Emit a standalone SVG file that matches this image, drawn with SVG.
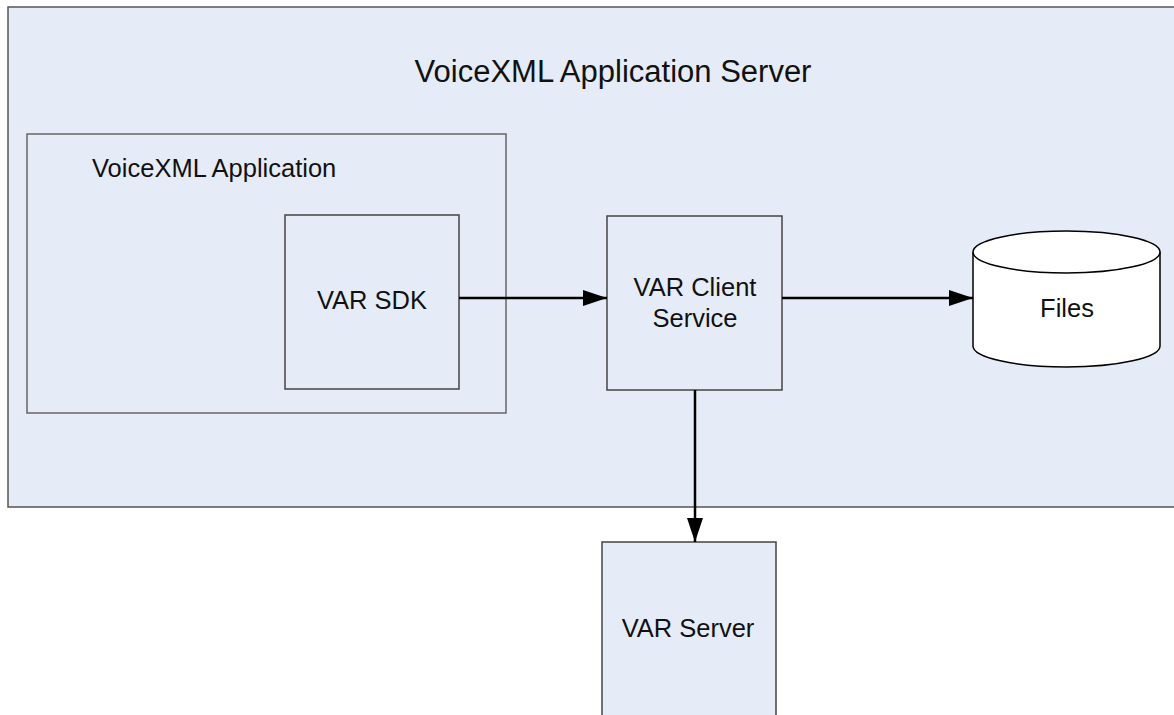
<svg xmlns="http://www.w3.org/2000/svg" width="1174" height="715" viewBox="0 0 1174 715">
<style>
.box{fill:#E6ECF7;stroke:#444;stroke-width:1.5}
.lbl{font-family:"Liberation Sans",Arial,sans-serif;font-size:25.5px;fill:#111;text-anchor:middle}
.con{stroke:#000;stroke-width:2.5;fill:none}
</style>
<defs>
<marker id="arr" markerUnits="userSpaceOnUse" markerWidth="26" markerHeight="18" refX="24" refY="8" orient="auto">
<path d="M0,0 L24,8 L0,16 Z" fill="#000"/>
</marker>
</defs>
<rect width="1174" height="715" fill="#fff"/>
<g id="app-server">
<rect class="box" x="8" y="7" width="1180" height="500" style="stroke:#555"/>
<text class="lbl" x="613" y="82" style="font-size:31px">VoiceXML Application Server</text>
</g>
<g id="voicexml-app">
<rect class="box" x="27" y="134" width="479" height="279" style="stroke:#666"/>
<text class="lbl" x="92" y="177" style="text-anchor:start">VoiceXML Application</text>
</g>
<g id="var-sdk">
<rect class="box" x="285" y="215" width="174" height="174"/>
<text class="lbl" x="372" y="309">VAR SDK</text>
</g>
<g id="var-client">
<rect class="box" x="607" y="216" width="175" height="174"/>
<text class="lbl" x="695" y="296">VAR Client</text>
<text class="lbl" x="695" y="327">Service</text>
</g>
<g id="files">
<path d="M973,252 L973,346 A93.5,21 0 0 0 1160,346 L1160,252" fill="#fff" stroke="#000" stroke-width="1.5"/>
<ellipse cx="1066.5" cy="252" rx="93.5" ry="21" fill="#fff" stroke="#000" stroke-width="1.5"/>
<text class="lbl" x="1067" y="317">Files</text>
</g>
<g id="var-server">
<rect class="box" x="602" y="542" width="174" height="200"/>
<text class="lbl" x="688" y="637">VAR Server</text>
</g>
<g id="connectors">
<line class="con" x1="459" y1="298" x2="607" y2="298" marker-end="url(#arr)"/>
<line class="con" x1="782" y1="298" x2="973" y2="298" marker-end="url(#arr)"/>
<line class="con" x1="695" y1="390" x2="695" y2="542" marker-end="url(#arr)"/>
</g>
</svg>
